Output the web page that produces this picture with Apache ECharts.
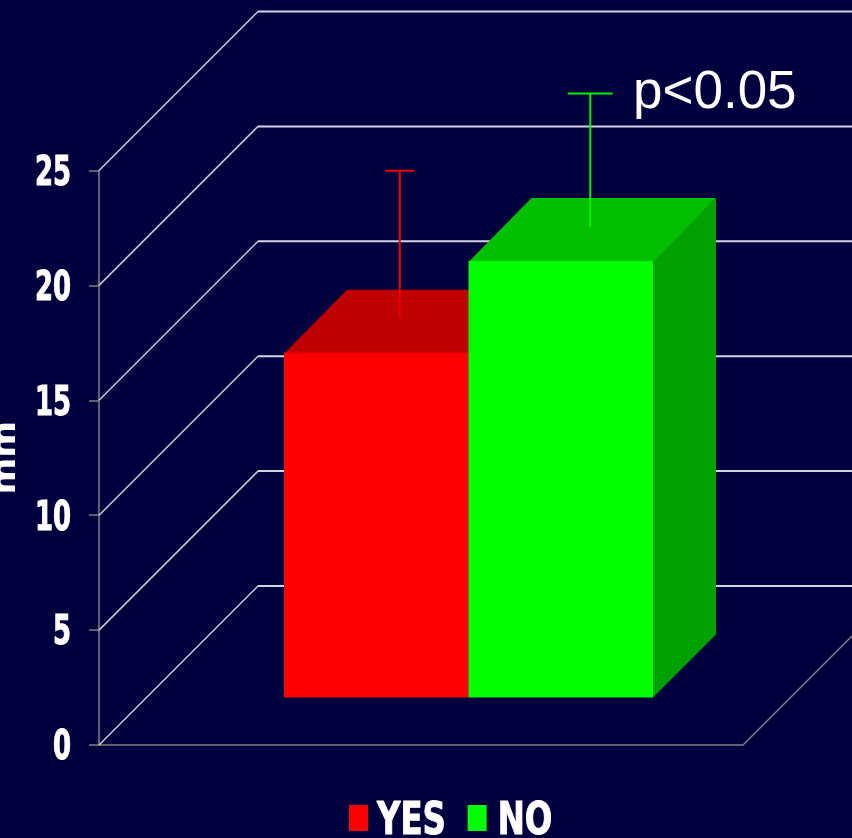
<!DOCTYPE html>
<html><head><meta charset="utf-8">
<style>html,body{margin:0;padding:0;background:#00003f}#c{width:852px;height:838px}</style>
<script src="https://cdn.jsdelivr.net/npm/echarts@6/dist/echarts.min.js"></script>
</head><body><div id="c"></div>
<script>
var yTicks = [0, 5, 10, 15, 20, 25];
var groups = ['Group'];
var seriesNames = ['YES', 'NO'];
var yesValues = [15];
var noValues = [19];
var yesErrorLow = [15.5];
var yesErrorHigh = [21.9];
var noErrorLow = [19.2];
var noErrorHigh = [25];
var annotation = 'p<0.05';
var axisName = 'mm';

var labelFont = '"DejaVu Sans Condensed","DejaVu Sans",sans-serif';
var WALL = 159, LIFT = 47.5, DEPTH = 63, BAR_W = 184.5;

function wallItem(params, api) {
  var p = api.coord([0, api.value(0)]);
  var s = api.size([1, 0])[0];
  var x0 = p[0] - s / 2, y = p[1];
  var isFloor = api.value(0) === 0;
  var children = [{
    type: 'polyline', silent: true,
    shape: {points: [[x0, y], [x0 + WALL, y - WALL]]},
    style: {stroke: '#d0d0d8', lineWidth: 1.5, fill: 'none'}
  }, {
    type: 'polyline', silent: true,
    shape: {points: [[x0 + WALL, y - WALL], [x0 + WALL + s, y - WALL]]},
    style: {stroke: '#d4d4e0', lineWidth: 2, fill: 'none'}
  }];
  if (isFloor) {
    children.push({
      type: 'polyline', silent: true,
      shape: {points: [[x0 + s, y], [x0 + s + WALL, y - WALL]]},
      style: {stroke: '#808088', lineWidth: 1.5, fill: 'none'}
    });
  }
  return {type: 'group', children: children};
}

function barRenderer(side, front, top, dark, errorColor, errShift, capHalf) {
  return function (params, api) {
    var b = api.coord([0, 0]);
    var t = api.coord([0, api.value(1)]);
    var lo = api.coord([0, api.value(2)]);
    var hi = api.coord([0, api.value(3)]);
    var cx = b[0] + LIFT;
    var xa = side < 0 ? cx - BAR_W : cx;
    var xb = xa + BAR_W;
    var yb = b[1] - LIFT, yt = t[1] - LIFT;
    var ex = (xa + xb) / 2 + errShift;
    var yLo = lo[1] - LIFT - errShift, yHi = hi[1] - LIFT - errShift;
    return {type: 'group', children: [
      {type: 'polygon', silent: true, shape: {points: [[xb - 1, yb], [xb, yb], [xb + DEPTH, yb - DEPTH], [xb + DEPTH, yt - DEPTH], [xb - 1, yt - 1]]}, style: {fill: dark}},
      {type: 'polygon', silent: true, shape: {points: [[xa, yt + 1], [xb, yt + 1], [xb + DEPTH, yt - DEPTH], [xa + DEPTH, yt - DEPTH]]}, style: {fill: top}},
      {type: 'rect', silent: true, shape: {x: xa, y: yt, width: BAR_W, height: yb - yt}, style: {fill: front}},
      {type: 'line', silent: true, shape: {x1: ex, y1: yLo, x2: ex, y2: yHi}, style: {stroke: errorColor, lineWidth: 2}},
      {type: 'line', silent: true, shape: {x1: ex - capHalf, y1: yHi, x2: ex + capHalf, y2: yHi}, style: {stroke: errorColor, lineWidth: 2}}
    ]};
  };
}

var chart = echarts.init(document.getElementById('c'), null, {renderer: 'canvas'});
chart.setOption({
  animation: false,
  backgroundColor: '#00003f',
  grid: {left: 99, top: 170.5, width: 644, height: 574.5, outerBoundsMode: 'none'},
  legend: {
    left: 349, top: 795, padding: 0, itemWidth: 19, itemHeight: 26, itemGap: 8,
    icon: 'rect', selectedMode: false,
    data: seriesNames,
    textStyle: {color: '#fff', fontFamily: labelFont, fontWeight: 'bold', fontSize: 45,
      textBorderColor: '#fff', textBorderWidth: 1}
  },
  xAxis: {
    type: 'category', data: groups,
    axisLine: {lineStyle: {color: '#808080', width: 1.5}},
    axisTick: {show: false}, axisLabel: {show: false}, splitLine: {show: false}
  },
  yAxis: {
    type: 'value', min: 0, max: 25, interval: 5,
    name: axisName, nameLocation: 'middle', nameRotate: 90, nameGap: 76, nameMoveOverlap: false,
    nameTextStyle: {color: '#fff', fontFamily: labelFont, fontWeight: 'bold', fontSize: 34},
    axisLine: {show: true, lineStyle: {color: '#808080', width: 1.5}},
    axisTick: {show: true, length: 10, lineStyle: {color: '#808080', width: 1.5}},
    axisLabel: {color: '#fff', fontFamily: labelFont, fontWeight: 'bold', fontSize: 40, margin: 28,
      textBorderColor: '#fff', textBorderWidth: 1},
    splitLine: {show: false}
  },
  graphic: [{
    type: 'text', x: 633, y: 67, silent: true,
    style: {text: annotation, fill: '#fff', font: '53px "Liberation Sans",Arial,sans-serif'}
  }],
  series: [
    {type: 'custom', name: 'walls', z: 1, clip: false, coordinateSystem: 'cartesian2d',
     data: yTicks.map(function (v) { return [v]; }), encode: {y: 0},
     renderItem: wallItem},
    {type: 'custom', name: 'YES', z: 2, clip: false, coordinateSystem: 'cartesian2d',
     itemStyle: {color: '#ff0000'},
     data: groups.map(function (g, i) { return [i, yesValues[i], yesErrorLow[i], yesErrorHigh[i]]; }),
     encode: {x: 0, y: 1},
     renderItem: barRenderer(-1, '#ff0000', '#c00000', '#a00000', '#f00000', 23.5, 14.5)},
    {type: 'custom', name: 'NO', z: 3, clip: false, coordinateSystem: 'cartesian2d',
     itemStyle: {color: '#00ff00'},
     data: groups.map(function (g, i) { return [i, noValues[i], noErrorLow[i], noErrorHigh[i]]; }),
     encode: {x: 0, y: 1},
     renderItem: barRenderer(1, '#00ff00', '#00c000', '#00a000', '#00f000', 29.5, 22.5)}
  ]
});

// No narrow bold face is installed, so the axis and legend labels are condensed in place.
var tickLabels = yTicks.map(String);
chart.getZr().storage.traverse(function (el) {
  if (el.type !== 'text' || !el.style) return;
  var txt = el.style.text;
  if (tickLabels.indexOf(txt) >= 0) {
    el.scaleX = 0.72;
    el.originX = el.style.x || 0;
    el.y += 4;
    el.markRedraw();
  } else if (seriesNames.indexOf(txt) >= 0) {
    el.scaleX = 0.8;
    el.originX = el.style.x || 0;
    el.x += txt === 'NO' ? 6 : 4;
    el.y += 4.5;
    el.markRedraw();
  } else if (txt === axisName) {
    el.scaleX = 1.15;
    el.markRedraw();
  }
});
chart.getZr().refreshImmediately();
</script></body></html>
